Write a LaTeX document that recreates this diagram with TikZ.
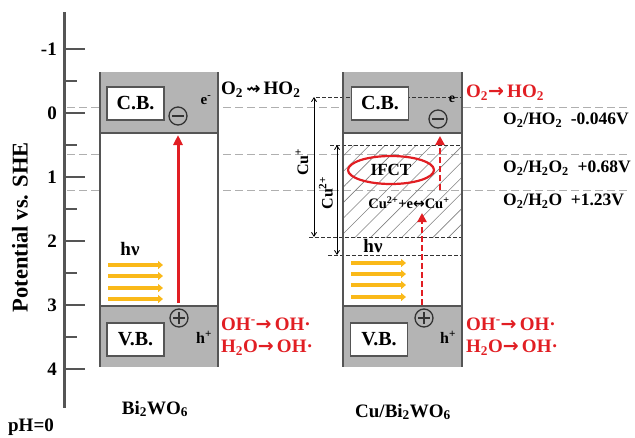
\documentclass[tikz,border=0pt]{standalone}
\usepackage{fontspec}
\setmainfont{Liberation Serif}
\newfontfamily\symf{DejaVu Sans}
\usetikzlibrary{arrows.meta,shapes.geometric,patterns.meta}
\definecolor{redc}{RGB}{225,30,35}
\definecolor{yellc}{RGB}{250,185,25}
\definecolor{bandfill}{RGB}{180,180,180}
\definecolor{boxcol}{RGB}{85,85,85}
\definecolor{refgray}{RGB}{175,175,175}
\newcommand\tsb[1]{\textsubscript{#1}}
\newcommand\tsp[1]{\textsuperscript{#1}}
\newcommand\rarr{{\symf\bfseries →}}
\begin{document}
\begin{tikzpicture}[x=1pt,y=-1pt,
  every node/.style={font=\bfseries\fontsize{19}{21}\selectfont, inner sep=0pt},
  refline/.style={refgray, line width=1pt, dash pattern=on 8pt off 4pt},
  blkdash/.style={black!80, line width=1pt, dash pattern=on 4pt off 2pt},
  boxline/.style={boxcol, line width=2pt},
  axisline/.style={boxcol, line width=3pt},
  bandbox/.style={draw=boxcol, line width=1.6pt, fill=white, minimum width=57pt, minimum height=33pt, font=\bfseries\fontsize{20}{22}\selectfont},
  yarrow/.style={yellc, line width=3.8pt, -{Triangle[length=5pt,width=8pt]}},
  redarrow/.style={redc, line width=3pt, -{Triangle[length=10pt,width=9pt]}},
  reddash/.style={redc, line width=2.4pt, dash pattern=on 6pt off 3pt, -{Triangle[length=9pt,width=9pt]}},
  cuarrow/.style={black, line width=0.8pt, {Straight Barb[length=4pt,width=5pt]}-{Straight Barb[length=4pt,width=5pt]}},
  charge/.style={circle, draw=black!80, line width=1.3pt, minimum size=18pt},
  redtxt/.style={text=redc, anchor=west},
  majtick/.style={boxcol, line width=2.5pt},
]
\useasboundingbox (0,0) rectangle (635,437);

% reference potential lines
\draw[refline] (67,107) -- (630,107);
\draw[refline] (67,154) -- (630,154);
\draw[refline] (67,190) -- (630,190);

% axis
\draw[axisline] (64,12) -- (64,408);
\foreach \v/\y in {-1/49,0/113,1/177,2/241,3/305,4/369}{
  \draw[majtick] (64,\y) -- (85,\y);
  \node[anchor=east] (tick\v) at (57,\y) {\v};
}
\foreach \y in {81,145,209,273,337}{
  \draw[majtick] (64,\y) -- (77,\y);
}
\node[rotate=90, font=\bfseries\fontsize{22.5}{24}\selectfont] (ylab) at (20,227) {Potential vs. SHE};
\node (ph) at (31,427) {pH=0};

% ---------- left box Bi2WO6 ----------
\fill[white] (100,133) rectangle (218,306);
\fill[bandfill] (100,72) rectangle (218,133);
\fill[bandfill] (100,306) rectangle (218,367);
\draw[boxline] (100,72) -- (100,367);
\draw[boxline] (218,72) -- (218,367);
\draw[boxline] (100,133) -- (218,133);
\draw[boxline] (100,306) -- (218,306);
\node[bandbox] (cbL) at (135.5,103.5) {C.B.};
\node[bandbox] (vbL) at (135.5,339.5) {V.B.};
\node[charge] (eL) at (178,116) {};
\draw[black!80, line width=1.3pt] (172,116) -- (184,116);
\node[charge] (hL) at (179,318) {};
\draw[black!80, line width=1.3pt] (173,318) -- (185,318) (179,312) -- (179,324);
\node[font=\bfseries\fontsize{15}{16}\selectfont] (emL) at (206,100) {e\tsp{-}};
\node[font=\bfseries\fontsize{16}{17}\selectfont] (hpL) at (204,337) {h\tsp{+}};
\coordinate (rAs) at (178,303);
\coordinate (rAe) at (178,135);
\draw[redarrow] (rAs) -- (rAe);
\node (hvL) at (130,249) {hν};
\foreach \y [count=\i] in {265,276,288,299}{
  \coordinate (ysL\i) at (108,\y);
  \coordinate (yeL\i) at (163,\y);
  \draw[yarrow] (ysL\i) -- (yeL\i);
}
\node[anchor=west] (o2L) at (221,90) {O\tsb{2}\,{\symf\bfseries\fontsize{17}{17}\selectfont ⇝}\,HO\tsb{2}};
\node[redtxt] (ohL) at (221,324) {OH\tsp{-}\rarr\,OH·};
\node[redtxt] (h2oL) at (221,348) {H\tsb{2}O\rarr\,OH·};
\node (nameL) at (155,409) {Bi\tsb{2}WO\tsb{6}};

% ---------- right box Cu/Bi2WO6 ----------
\fill[bandfill] (343,72) rectangle (462,133);
\fill[bandfill] (343,306) rectangle (462,367);
\fill[pattern={Lines[angle=45,distance=11pt,line width=0.6pt]}, pattern color=black!50] (343,145) rectangle (462,237);

% black dashed levels
\coordinate (d1s) at (316,97);  \coordinate (d1e) at (462,97);
\coordinate (d2s) at (330,145); \coordinate (d2e) at (462,145);
\coordinate (d3s) at (309,237); \coordinate (d3e) at (462,237);
\coordinate (d4s) at (328,255); \coordinate (d4e) at (462,255);
\draw[blkdash] (d1s) -- (d1e);
\draw[blkdash] (d2s) -- (d2e);
\draw[blkdash] (d3s) -- (d3e);
\draw[blkdash] (d4s) -- (d4e);

\draw[boxline] (343,72) -- (343,367);
\draw[boxline] (462,72) -- (462,367);
\draw[boxline] (343,133) -- (462,133);
\draw[boxline] (343,306) -- (462,306);
\node[bandbox] (cbR) at (380,103.5) {C.B.};
\node[bandbox] (vbR) at (379,339.5) {V.B.};
\node[charge] (eR) at (438,119) {};
\draw[black!80, line width=1.3pt] (432,119) -- (444,119);
\node[charge] (hR) at (424,318) {};
\draw[black!80, line width=1.3pt] (418,318) -- (430,318) (424,312) -- (424,324);
\node[font=\bfseries\fontsize{14}{15}\selectfont] (emR) at (452,99) {e};
\node[font=\bfseries\fontsize{16}{17}\selectfont] (hpR) at (448,337) {h\tsp{+}};

% Cu level arrows
\coordinate (cu1t) at (314,97);  \coordinate (cu1b) at (314,237);
\coordinate (cu2t) at (337,145); \coordinate (cu2b) at (337,255);
\draw[cuarrow] (cu1t) -- (cu1b);
\draw[cuarrow] (cu2t) -- (cu2b);
\node[rotate=90, font=\bfseries\fontsize{16}{17}\selectfont] (cu1lab) at (302,162) {Cu\tsp{+}};
\node[rotate=90, font=\bfseries\fontsize{16}{17}\selectfont] (cu2lab) at (326,193) {Cu\tsp{2+}};

\node[ellipse, draw=redc, line width=2.2pt, minimum width=86pt, minimum height=28pt, font=\bfseries\fontsize{17}{18}\selectfont] (ifct) at (391,170) {IFCT};
\node[font=\bfseries\fontsize{14.5}{16}\selectfont] (redox) at (409,203) {Cu\tsp{2+}+e{\symf\bfseries\fontsize{14}{14}\selectfont ↔}Cu\tsp{+}};

\coordinate (rd1s) at (440,190); \coordinate (rd1e) at (440,136);
\coordinate (rd2s) at (422,305); \coordinate (rd2e) at (422,213);
\draw[reddash] (rd1s) -- (rd1e);
\draw[reddash] (rd2s) -- (rd2e);

\node (hvR) at (373,246) {hν};
\foreach \y [count=\i] in {263,274,285,297}{
  \coordinate (ysR\i) at (351,\y);
  \coordinate (yeR\i) at (406,\y);
  \draw[yarrow] (ysR\i) -- (yeR\i);
}

\node[redtxt] (o2R) at (466,93) {O\tsb{2}\rarr\,HO\tsb{2}};
\node[redtxt] (ohR) at (466,324) {OH\tsp{-}\rarr\,OH·};
\node[redtxt] (h2oR) at (466,348) {H\tsb{2}O\rarr\,OH·};
\node (nameR) at (403,412) {Cu/Bi\tsb{2}WO\tsb{6}};

\node[anchor=west, font=\bfseries\fontsize{17.5}{18}\selectfont] (pot1) at (503,120) {O\tsb{2}/HO\tsb{2} \ -0.046V};
\node[anchor=west, font=\bfseries\fontsize{17.5}{18}\selectfont] (pot2) at (503,168) {O\tsb{2}/H\tsb{2}O\tsb{2} \ +0.68V};
\node[anchor=west, font=\bfseries\fontsize{17.5}{18}\selectfont] (pot3) at (503,201) {O\tsb{2}/H\tsb{2}O \ +1.23V};
\end{tikzpicture}
\end{document}
